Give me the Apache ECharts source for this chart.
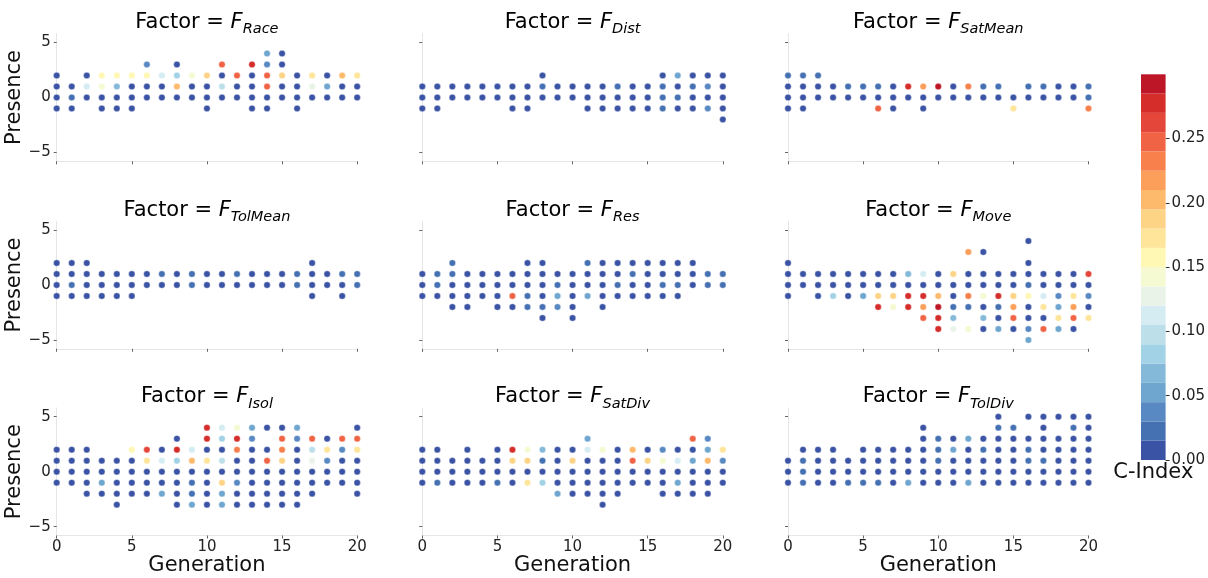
<!DOCTYPE html>
<html><head><meta charset="utf-8">
<script src="https://cdn.jsdelivr.net/npm/echarts@6/dist/echarts.min.js"></script>
<style>html,body{margin:0;padding:0;background:#fff}#c{width:1208px;height:578px}</style>
</head><body><div id="c"></div>
<script>
// ---- data ----
const D = 0.005, M = 0.02;   // dark blue / medium blue C-Index
const factorNames = ['Race','Dist','SatMean','TolMean','Res','Move','Isol','SatDiv','TolDiv'];
const xTicks = [0,5,10,15,20];
const yTicks = [-5,0,5];
const cbTicks = [0,0.05,0.10,0.15,0.20,0.25];
const cbEdges = [0,0.015,0.03,0.045,0.06,0.075,0.09,0.105,0.12,0.135,0.15,0.165,0.18,0.195,0.21,0.225,0.24,0.255,0.27,0.285,0.30];
const cbColors = ['#3a53a4','#4571b2','#5989c2','#6fa6cf','#84b9d9','#a2d2e5','#bcdfea','#d5ecf3','#e9f3e8','#f5fad2',
                  '#fff7b4','#fee59a','#fdd386','#fdb96c','#fb9f5a','#f7804c','#f06445','#e4473a','#d42d2a','#bd1627'];

// each panel: index = generation, entries = [presence, C-Index]
const race = [
 [[2,D],[1,D],[0,D],[-1,D]],
 [[1,D],[0,M],[-1,D]],
 [[2,D],[1,0.11],[0,D]],
 [[2,0.155],[1,0.14],[0,D],[-1,D]],
 [[2,0.155],[1,0.065],[0,D],[-1,D]],
 [[2,0.155],[1,D],[0,D],[-1,D]],
 [[3,0.035],[2,0.155],[1,D],[0,D]],
 [[2,0.11],[1,D],[0,D]],
 [[3,D],[2,0.08],[1,0.2],[0,D]],
 [[2,0.14],[1,D],[0,D]],
 [[2,0.185],[1,D],[0,D],[-1,D]],
 [[3,0.245],[2,D],[1,0.095],[0,D]],
 [[2,0.245],[1,D],[0,D]],
 [[3,0.275],[2,D],[1,D],[0,D],[-1,D]],
 [[4,0.05],[3,0.035],[2,0.245],[1,0.245],[0,D],[-1,D]],
 [[4,D],[3,D],[2,0.185],[1,D],[0,D]],
 [[2,D],[1,D],[0,D],[-1,D]],
 [[2,0.17],[1,0.125],[0,D]],
 [[2,D],[1,0.05],[0,D]],
 [[2,0.2],[1,D],[0,D]],
 [[2,0.17],[1,D],[0,D]]
];
const dist = [
 [[1,D],[0,D],[-1,D]],
 [[1,D],[0,D],[-1,D]],
 [[1,D],[0,D]],
 [[1,D],[0,D]],
 [[1,D],[0,D]],
 [[1,D],[0,D]],
 [[1,D],[0,D],[-1,D]],
 [[1,D],[0,D],[-1,D]],
 [[2,D],[1,M],[0,D]],
 [[1,D],[0,D]],
 [[1,D],[0,D]],
 [[1,D],[0,D],[-1,D]],
 [[1,D],[0,D],[-1,D]],
 [[1,M],[0,D],[-1,D]],
 [[1,D],[0,D],[-1,D]],
 [[1,D],[0,D],[-1,D]],
 [[2,D],[1,M],[0,M],[-1,M]],
 [[2,0.05],[1,D],[0,M],[-1,D]],
 [[2,D],[1,M],[0,D],[-1,D]],
 [[2,D],[1,0.035],[0,D],[-1,0.035]],
 [[2,D],[1,D],[0,D],[-1,D],[-2,D]]
];
const satMean = [
 [[2,M],[1,D],[0,D],[-1,D]],
 [[2,M],[1,D],[0,D],[-1,D]],
 [[2,M],[1,D],[0,D]],
 [[1,D],[0,D]],
 [[1,M],[0,D]],
 [[1,M],[0,D]],
 [[1,M],[0,D],[-1,0.245]],
 [[1,D],[0,D],[-1,D]],
 [[1,0.275],[0,D]],
 [[1,0.215],[0,D],[-1,D]],
 [[1,0.29],[0,D]],
 [[1,D],[0,D]],
 [[1,0.23],[0,D]],
 [[1,M],[0,D]],
 [[1,M],[0,D]],
 [[0,D],[-1,0.17]],
 [[1,M],[0,D]],
 [[1,M],[0,D]],
 [[1,D],[0,D]],
 [[1,D],[0,D]],
 [[1,M],[0,M],[-1,0.23]]
];
const tolMean = [
 [[2,D],[1,D],[0,D],[-1,D]],
 [[2,D],[1,D],[0,M],[-1,D]],
 [[2,D],[1,D],[0,D],[-1,D]],
 [[1,D],[0,D],[-1,D]],
 [[1,D],[0,D],[-1,D]],
 [[1,D],[0,D],[-1,D]],
 [[1,D],[0,D]],
 [[1,M],[0,D]],
 [[1,D],[0,D]],
 [[1,M],[0,M]],
 [[1,D],[0,D]],
 [[1,D],[0,D]],
 [[1,M],[0,D]],
 [[1,D],[0,D]],
 [[1,D],[0,D]],
 [[1,D],[0,D]],
 [[1,M],[0,M]],
 [[2,D],[1,D],[0,D],[-1,D]],
 [[1,D],[0,D]],
 [[1,M],[0,D],[-1,D]],
 [[1,M],[0,M]]
];
const res = [
 [[1,D],[0,D],[-1,D]],
 [[1,M],[0,M],[-1,D]],
 [[2,M],[1,M],[0,D],[-1,D],[-2,D]],
 [[1,D],[0,D],[-1,D],[-2,D]],
 [[1,D],[0,D],[-1,D]],
 [[1,D],[0,D],[-1,D],[-2,D]],
 [[1,D],[0,D],[-1,0.245],[-2,D]],
 [[2,D],[1,D],[0,D],[-1,M],[-2,M]],
 [[2,D],[1,D],[0,D],[-1,D],[-2,M],[-3,D]],
 [[1,D],[0,M],[-1,0.05],[-2,0.035]],
 [[1,D],[0,D],[-1,D],[-2,D],[-3,D]],
 [[2,M],[1,D],[0,D],[-1,0.05]],
 [[2,D],[1,D],[0,D],[-1,D],[-2,D]],
 [[2,D],[1,D],[0,M],[-1,D]],
 [[2,D],[1,M],[0,D],[-1,D]],
 [[2,D],[1,D],[0,D],[-1,D]],
 [[2,D],[1,D],[0,M],[-1,D]],
 [[2,D],[1,D],[0,M],[-1,D]],
 [[2,D],[1,D],[0,D]],
 [[1,M],[0,M]],
 [[1,M],[0,M]]
];
const move = [
 [[2,D],[1,D],[0,D],[-1,D]],
 [[1,D],[0,D]],
 [[1,D],[0,D],[-1,D]],
 [[1,D],[0,D],[-1,0.08]],
 [[1,D],[0,D],[-1,D]],
 [[1,D],[0,D],[-1,0.05]],
 [[1,D],[0,D],[-1,0.185],[-2,0.275]],
 [[1,D],[0,D],[-1,0.19],[-2,0.14]],
 [[1,0.065],[0,D],[-1,0.275],[-2,0.275]],
 [[1,0.11],[0,D],[-1,0.275],[-2,0.215],[-3,0.245]],
 [[1,D],[0,D],[-1,0.2],[-2,0.29],[-3,0.275],[-4,0.275]],
 [[1,0.185],[0,D],[-1,D],[-2,M],[-3,0.065],[-4,0.125]],
 [[3,0.215],[1,D],[0,D],[-1,0.23],[-2,M],[-4,0.14]],
 [[3,D],[1,D],[0,D],[-1,0.14],[-2,D],[-3,0.065],[-4,D]],
 [[1,D],[0,D],[-1,0.275],[-2,M],[-3,D],[-4,0.05]],
 [[1,D],[0,D],[-1,0.185],[-2,0.215],[-3,0.245],[-4,D]],
 [[4,D],[2,D],[1,D],[0,M],[-1,0.155],[-2,D],[-3,D],[-4,0.035],[-5,0.05]],
 [[1,D],[0,D],[-1,0.11],[-2,0.17],[-3,D],[-4,0.245]],
 [[1,D],[0,D],[-1,0.035],[-2,0.05],[-3,0.17],[-4,0.05]],
 [[1,D],[0,D],[-1,0.17],[-2,0.215],[-3,0.245],[-4,D]],
 [[1,0.26],[0,D],[-1,0.035],[-2,D],[-3,0.17]]
];
const isol = [
 [[2,D],[1,D],[0,D],[-1,D]],
 [[2,D],[1,D],[0,D],[-1,D]],
 [[2,D],[1,D],[0,D],[-1,D],[-2,D]],
 [[1,D],[0,D],[-1,0.05],[-2,D]],
 [[1,D],[0,D],[-1,D],[-2,D],[-3,D]],
 [[2,0.155],[1,D],[0,D],[-1,D],[-2,D]],
 [[2,0.26],[1,0.17],[0,D],[-1,D],[-2,D]],
 [[2,D],[1,0.11],[0,D],[-1,D],[-2,0.05]],
 [[3,D],[2,0.275],[1,0.08],[0,D],[-1,D],[-2,D],[-3,D]],
 [[2,0.11],[1,0.2],[0,D],[-1,M],[-2,M],[-3,0.05]],
 [[4,0.275],[3,0.275],[2,D],[1,0.17],[0,D],[-1,D],[-2,D],[-3,D]],
 [[4,0.11],[3,0.08],[2,D],[1,0.095],[0,D],[-1,0.185],[-2,0.05],[-3,0.05]],
 [[4,0.14],[3,0.275],[2,0.23],[1,D],[0,D],[-1,0.035],[-2,D],[-3,D]],
 [[4,0.05],[3,0.035],[2,D],[1,D],[0,D],[-1,D],[-2,D],[-3,D]],
 [[4,D],[2,D],[1,0.245],[0,D],[-1,D],[-2,D],[-3,D]],
 [[4,D],[3,0.245],[2,0.23],[1,0.185],[0,D],[-1,D],[-2,D],[-3,D]],
 [[4,0.05],[3,0.035],[2,D],[1,D],[0,D],[-1,D],[-2,D],[-3,D]],
 [[3,0.245],[2,0.095],[1,0.125],[0,D],[-1,D],[-2,D]],
 [[3,D],[2,0.17],[1,0.035],[0,D],[-1,D]],
 [[3,0.245],[2,0.035],[1,D],[0,D],[-1,D]],
 [[4,D],[3,0.245],[2,0.17],[1,D],[0,D],[-1,D],[-2,D]]
];
const satDiv = [
 [[2,D],[1,D],[0,D],[-1,D]],
 [[2,D],[1,D],[0,D],[-1,M]],
 [[1,D],[0,D],[-1,D]],
 [[2,D],[1,D],[0,D],[-1,D]],
 [[1,D],[0,D],[-1,D]],
 [[2,D],[1,D],[0,D],[-1,M]],
 [[2,0.275],[1,0.185],[0,D],[-1,D]],
 [[2,0.14],[1,0.19],[0,D],[-1,0.17]],
 [[2,0.065],[1,M],[0,D],[-1,0.08]],
 [[2,D],[1,D],[0,D],[-1,D],[-2,0.05]],
 [[2,D],[1,0.19],[0,D],[-1,D],[-2,D]],
 [[3,0.05],[2,0.11],[1,D],[0,D],[-1,D],[-2,D]],
 [[2,0.14],[1,D],[0,D],[-1,D],[-2,D],[-3,D]],
 [[2,D],[1,D],[0,D],[-1,D],[-2,D]],
 [[2,0.2],[1,0.245],[0,D],[-1,D]],
 [[2,D],[1,0.185],[0,D],[-1,D]],
 [[2,0.035],[1,0.14],[0,D],[-1,D],[-2,D]],
 [[2,D],[1,0.11],[0,D],[-1,0.05],[-2,D]],
 [[3,0.245],[2,D],[1,0.05],[0,D],[-1,D],[-2,D]],
 [[3,0.035],[2,0.05],[1,0.2],[0,D],[-1,D],[-2,D]],
 [[2,0.17],[1,0.035],[0,D],[-1,D]]
];
const tolDiv = [
 [[1,D],[0,D],[-1,D]],
 [[2,D],[1,M],[0,M],[-1,M]],
 [[2,D],[1,D],[0,D],[-1,D]],
 [[2,D],[1,D],[0,D],[-1,D]],
 [[1,D],[0,D],[-1,M]],
 [[2,D],[1,D],[0,D],[-1,M]],
 [[2,D],[1,D],[0,D],[-1,M]],
 [[2,D],[1,D],[0,D],[-1,D]],
 [[2,D],[1,D],[0,D],[-1,0.05]],
 [[4,D],[3,D],[2,D],[1,D],[0,D],[-1,D]],
 [[3,M],[2,M],[1,M],[0,D],[-1,D]],
 [[3,D],[2,0.05],[1,D],[0,D],[-1,D]],
 [[3,0.05],[2,D],[1,D],[0,D],[-1,0.05]],
 [[3,D],[2,M],[1,D],[0,D],[-1,D]],
 [[5,D],[4,M],[3,D],[2,D],[1,D],[0,D],[-1,D]],
 [[4,M],[3,D],[2,D],[1,D],[0,D],[-1,D]],
 [[5,D],[3,D],[2,M],[1,M],[0,D],[-1,D]],
 [[5,D],[4,D],[3,D],[2,D],[1,M],[0,D],[-1,D]],
 [[5,D],[3,D],[2,D],[1,D],[0,D],[-1,D]],
 [[5,D],[4,M],[3,D],[2,D],[1,D],[0,D],[-1,D]],
 [[5,D],[4,D],[3,D],[2,D],[1,D],[0,D],[-1,D]]
];
const panels = [race, dist, satMean, tolMean, res, move, isol, satDiv, tolDiv];

// ---- layout ----
const FONT = 'DejaVu Sans';
const colLeft = [56.7, 422.3, 788];
const rowTop = [33.7, 221.2, 407.9];
const GW = 300.5, GH = 127.6;
const YMIN = -5.8, YMAX = 5.8;
const minusFmt = v => (v < 0 ? '\u2212' + (-v) : String(v));

const grids = [], xAxes = [], yAxes = [], series = [], graphics = [];
panels.forEach((panel, i) => {
  const r = Math.floor(i / 3), c = i % 3;
  grids.push({left: colLeft[c], top: rowTop[r], width: GW, height: GH, containLabel: false});
  xAxes.push({
    type: 'value', gridIndex: i, min: 0, max: 20, interval: 5,
    name: r === 2 ? 'Generation' : '', nameLocation: 'middle', nameGap: 17,
    nameTextStyle: {fontFamily: FONT, fontSize: 21, color: '#111', verticalAlign: 'top'},
    axisLine: {show: true, onZero: false, lineStyle: {color: '#e6e6e6', width: 1}},
    axisTick: {show: true, length: 3, lineStyle: {color: '#666'}},
    axisLabel: {show: r === 2, fontFamily: FONT, fontSize: 15, color: '#222', margin: 4},
    splitLine: {show: false}
  });
  yAxes.push({
    type: 'value', gridIndex: i, min: YMIN, max: YMAX,
    name: c === 0 ? 'Presence' : '', nameLocation: 'middle', nameGap: 27, nameRotate: 90,
    nameTextStyle: {fontFamily: FONT, fontSize: 21, color: '#111'},
    axisLine: {show: true, onZero: false, lineStyle: {color: '#e6e6e6', width: 1}},
    axisTick: {show: true, length: 3, customValues: yTicks, lineStyle: {color: '#666'}},
    axisLabel: {show: c === 0, customValues: yTicks, formatter: minusFmt, fontFamily: FONT, fontSize: 15, color: '#222', margin: 6},
    splitLine: {show: false}
  });
  const data = [];
  panel.forEach((pts, g) => pts.forEach(([p, ci]) => data.push([g, p, ci])));
  series.push({
    type: 'scatter', xAxisIndex: i, yAxisIndex: i, data: data,
    symbol: 'circle', symbolSize: 6.5,
    itemStyle: {borderColor: '#ffffff', borderWidth: 0.4, opacity: 1},
    emphasis: {disabled: true}, animation: false
  });
  graphics.push({
    type: 'text', x: colLeft[c] + GW / 2, y: rowTop[r] - 9,
    style: {
      text: '{a|Factor = }{f|F}{s|' + factorNames[i] + '}',
      align: 'center', verticalAlign: 'middle', textAlign: 'center', textVerticalAlign: 'middle',
      rich: {
        a: {fontFamily: FONT, fontSize: 21, color: '#111', lineHeight: 25, verticalAlign: 'top'},
        f: {fontFamily: FONT, fontSize: 21, fontStyle: 'italic', color: '#111', lineHeight: 25, verticalAlign: 'top'},
        s: {fontFamily: FONT, fontSize: 14.5, fontStyle: 'italic', color: '#111', lineHeight: 14, verticalAlign: 'bottom'}
      }
    }
  });
});

// colorbar grid
const cbIdx = panels.length;
grids.push({left: 1141, top: 74.3, width: 24.7, height: 385.7, containLabel: false});
xAxes.push({
  type: 'category', gridIndex: cbIdx, data: ['c'], boundaryGap: true,
  name: 'C-Index', nameLocation: 'middle', nameGap: 2,
  nameTextStyle: {fontFamily: FONT, fontSize: 21, color: '#111', verticalAlign: 'top'},
  axisLine: {show: false}, axisTick: {show: false}, axisLabel: {show: false}
});
yAxes.push({
  type: 'value', gridIndex: cbIdx, min: cbEdges[0], max: cbEdges[cbEdges.length - 1], position: 'right',
  axisLine: {show: false},
  axisTick: {show: true, length: 4, customValues: cbTicks, lineStyle: {color: '#333'}},
  axisLabel: {customValues: cbTicks, formatter: v => v.toFixed(2), fontFamily: FONT, fontSize: 15, color: '#222', margin: 6},
  splitLine: {show: false}
});
cbColors.forEach((col, k) => {
  series.push({
    type: 'bar', xAxisIndex: cbIdx, yAxisIndex: cbIdx, stack: 'cb', barWidth: '100%',
    data: [cbEdges[k + 1] - cbEdges[k]], itemStyle: {color: col},
    emphasis: {disabled: true}, animation: false, silent: true
  });
});

const option = {
  backgroundColor: '#ffffff',
  animation: false,
  grid: grids, xAxis: xAxes, yAxis: yAxes, series: series,
  visualMap: {
    type: 'piecewise', show: false, dimension: 2,
    seriesIndex: panels.map((p, i) => i),
    pieces: cbColors.map((col, k) => ({gte: cbEdges[k], lt: cbEdges[k + 1], color: col}))
  },
  graphic: graphics
};
const chart = echarts.init(document.getElementById('c'), null, {renderer: 'canvas'});
chart.setOption(option);
</script></body></html>
